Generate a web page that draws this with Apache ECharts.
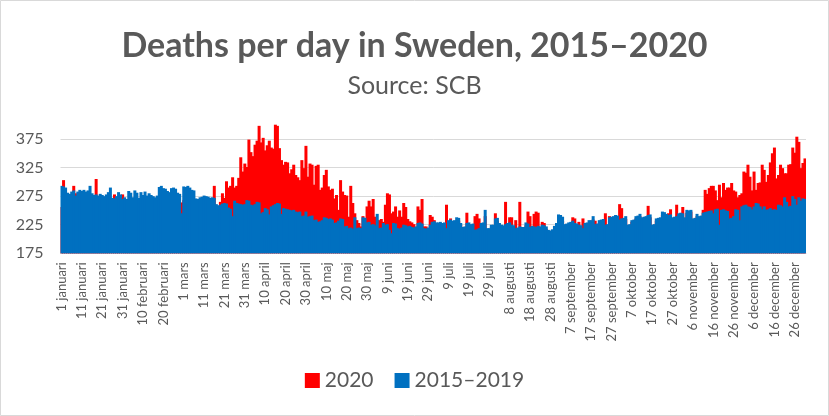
<!DOCTYPE html>
<html><head><meta charset="utf-8">
<script src="https://cdn.jsdelivr.net/npm/echarts@6/dist/echarts.min.js"></script>
<style>html,body{margin:0;padding:0;background:#fff}#c{width:829px;height:416px}</style>
</head><body><div id="c"></div>
<script>
const monthNames = ['januari','februari','mars','april','maj','juni','juli','augusti','september','oktober','november','december'];
const monthDays = [31,29,31,30,31,30,31,31,30,31,30,31];
const yTicks = [175,225,275,325,375];
const seriesNames = ['2020','2015\u20132019'];

const avg2015_2019 = [
293,292,290,281,279,283,285,276,283,286,
284,286,283,285,293,280,277,278,276,279,
277,275,278,282,290,272,271,275,282,278,
270,273,270,284,281,273,285,281,272,282,
277,283,276,280,277,275,273,276,291,293,
289,288,284,282,289,290,288,281,279,245,
292,291,293,290,286,285,271,270,273,274,
276,275,274,272,273,272,261,259,260,262,
263,262,255,253,240,267,263,262,261,260,
261,268,267,260,259,261,265,264,245,247,
254,252,243,257,259,261,263,262,244,254,
253,252,251,250,251,248,247,248,240,241,
248,239,240,241,233,234,230,231,233,238,
237,235,236,234,228,229,232,236,235,222,
223,219,220,218,238,219,220,219,238,237,
229,230,225,226,224,244,219,220,228,225,
226,216,210,228,227,219,218,220,225,224,
222,223,221,220,222,228,229,227,219,218,
220,225,230,231,229,229,230,228,229,219,
233,234,232,233,238,237,228,221,222,228,
229,226,227,216,217,219,228,229,251,219,
219,225,225,236,237,228,225,224,226,228,
229,225,224,219,220,222,221,221,229,227,
221,223,222,221,223,222,225,224,222,216,
215,217,223,228,243,242,239,226,227,229,
230,232,228,227,225,224,219,228,229,233,
233,240,226,227,233,234,235,225,226,238,
239,240,242,241,234,236,237,240,225,226,
233,234,240,241,244,238,239,240,242,243,
225,226,236,237,238,248,247,244,242,243,
238,239,240,245,246,245,238,251,250,251,
236,237,244,240,241,246,247,248,249,250,
245,252,253,225,251,252,250,249,236,237,
240,252,251,233,257,259,260,257,256,252,
257,263,262,257,252,257,251,252,254,251,
252,251,260,259,257,273,265,257,258,275,
270,260,273,267,271,270
];

const deaths2020 = [
256,303,275,270,268,272,293,280,270,274,
272,268,275,270,276,268,265,305,270,266,
262,268,270,265,272,264,278,262,268,270,
278,262,258,270,268,262,266,270,260,268,
262,265,268,262,270,258,264,262,270,275,
268,272,270,266,274,265,270,268,262,264,
268,274,270,266,272,265,262,258,266,260,
264,258,262,266,260,293,255,258,265,280,
272,301,290,293,308,290,293,307,343,318,
332,326,374,352,345,365,372,398,369,377,
355,364,372,360,358,400,398,359,338,330,
335,334,315,322,330,312,308,303,338,324,
363,309,332,330,295,328,330,286,290,312,
321,292,286,288,271,277,251,303,283,277,
276,239,293,263,245,233,228,222,240,236,
257,267,257,270,239,233,233,235,230,260,
280,278,245,248,257,239,250,239,263,256,
235,231,229,226,218,257,251,270,222,222,
215,242,239,233,225,222,224,220,226,260,
228,236,230,225,230,232,224,218,220,246,
225,220,222,240,244,236,222,225,240,214,
215,220,222,245,232,224,220,218,265,222,
238,238,220,233,218,265,216,218,224,248,
240,218,244,248,246,218,230,228,218,212,
210,214,218,224,236,238,232,222,224,225,
226,238,236,222,230,220,236,224,225,228,
229,234,232,222,228,230,230,245,222,240,
234,236,238,236,261,254,232,235,222,224,
230,228,236,238,240,234,232,236,258,238,
222,223,232,234,232,242,242,240,245,252,
235,236,260,240,242,256,235,246,245,248,
232,235,240,238,237,251,286,279,289,293,
293,285,268,295,273,298,286,290,290,298,
285,283,273,277,280,318,316,330,309,285,
318,286,298,299,330,321,300,312,334,350,
360,306,312,330,324,315,315,330,331,360,
351,379,370,324,333,341
];

const categories = [];
monthNames.forEach((m, i) => { for (let d = 1; d <= monthDays[i]; d++) categories.push(d + ' ' + m); });

const chart = echarts.init(document.getElementById('c'), null, {renderer: 'canvas'});
const grey = '#595959';
chart.setOption({
  animation: false,
  backgroundColor: '#fff',
  graphic: [{type: 'rect', shape: {x: 0.5, y: 0.5, width: 828, height: 415}, style: {fill: null, stroke: '#d9d9d9', lineWidth: 1}}],
  title: [
    {text: 'Deaths per day in Sweden, 2015\u20132020', left: 'center', top: 21,
     textStyle: {fontFamily: 'Lato', fontWeight: 'bold', fontSize: 34, lineHeight: 40, color: grey}},
    {text: 'Source: SCB', left: 'center', top: 66,
     textStyle: {fontFamily: 'Lato', fontWeight: 'normal', fontSize: 25, lineHeight: 30, color: grey}}
  ],
  legend: {
    data: seriesNames, bottom: 20, left: 'center', icon: 'rect', itemWidth: 15, itemHeight: 15, itemGap: 21,
    textStyle: {fontFamily: 'Lato', fontSize: 21, color: grey}
  },
  grid: {left: 60.5, right: 23, top: 124.7, bottom: 162.7, containLabel: false},
  xAxis: {
    type: 'category', data: categories, boundaryGap: true,
    axisLine: {show: true, lineStyle: {color: '#d9d9d9', width: 1}},
    axisTick: {show: false},
    axisLabel: {interval: 9, rotate: 90, margin: 9, fontFamily: 'Lato', fontSize: 13, color: grey}
  },
  yAxis: {
    type: 'value', min: yTicks[0], max: 400, interval: 50,
    axisLine: {show: false}, axisTick: {show: false},
    axisLabel: {showMaxLabel: false, fontFamily: 'Lato', fontSize: 16, color: grey, margin: 17},
    splitLine: {show: true, showMaxLine: false, lineStyle: {color: '#d9d9d9', width: 1}}
  },
  series: [
    {name: seriesNames[0], type: 'bar', data: deaths2020, barWidth: 3, barGap: '-100%',
     itemStyle: {color: '#ff0000'}, clip: true},
    {name: seriesNames[1], type: 'bar', data: avg2015_2019, barWidth: 3, barGap: '-100%',
     itemStyle: {color: '#0070c0'}, clip: true}
  ]
});
</script>
</body></html>
